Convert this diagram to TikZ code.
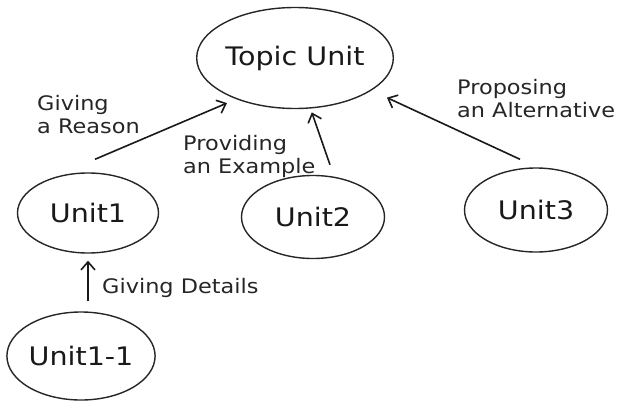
\documentclass[tikz,border=0pt]{standalone}
\usepackage{fontspec}
\setmainfont{DejaVu Sans}[FakeStretch=1.12]
\usepackage{tikz}
\usetikzlibrary{shapes.geometric,arrows.meta}

\begin{document}
\begin{tikzpicture}[x=1bp,y=1bp,
        unit/.style={ellipse,draw=black!85,line width=1.4bp,inner sep=0pt,text=black!90,font=\fontsize{25.5bp}{30bp}\selectfont},
        lbl/.style={anchor=base west,align=left,inner sep=0pt,text=black!85,font=\fontsize{20bp}{23bp}\selectfont},
        arr/.style={-{Straight Barb[length=8bp,width=14bp]},line width=1.6bp,black!90}]
        \useasboundingbox (0,0) rectangle (624,402);
        \node[unit,minimum width=176bp,minimum height=101bp] (topic) at (295,344) {Topic Unit};
        \node[unit,minimum width=141bp,minimum height=80bp] (unit1) at (88,189) {Unit1};
        \node[unit,minimum width=143bp,minimum height=83bp] (unit2) at (313,185) {Unit2};
        \node[unit,minimum width=143bp,minimum height=84bp] (unit3) at (536,192) {Unit3};
        \node[unit,minimum width=148bp,minimum height=88bp] (unit11) at (81,46) {Unit1-1};
        \draw[arr,shorten >=10bp] ([shift={(7bp,13bp)}]unit1.north) -- (topic.215);
        \draw[arr,shorten >=4bp] ([shift={(17bp,10bp)}]unit2.north) -- (topic.287);
        \draw[arr,shorten >=17bp] ([shift={(-16bp,8bp)}]unit3.north) -- (topic.337);
        \draw[arr,shorten <=10bp,shorten >=7bp] (unit11.north -| unit1.south) -- (unit1.south);
        \node[lbl] (reason) at (37,269) {Giving\\a Reason};
        \node[lbl] (example) at (183,229) {Providing\\an Example};
        \node[lbl] (alternative) at (457,285) {Proposing\\an Alternative};
        \node[lbl] (details) at (102,109) {Giving Details};
\end{tikzpicture}
\end{document}
